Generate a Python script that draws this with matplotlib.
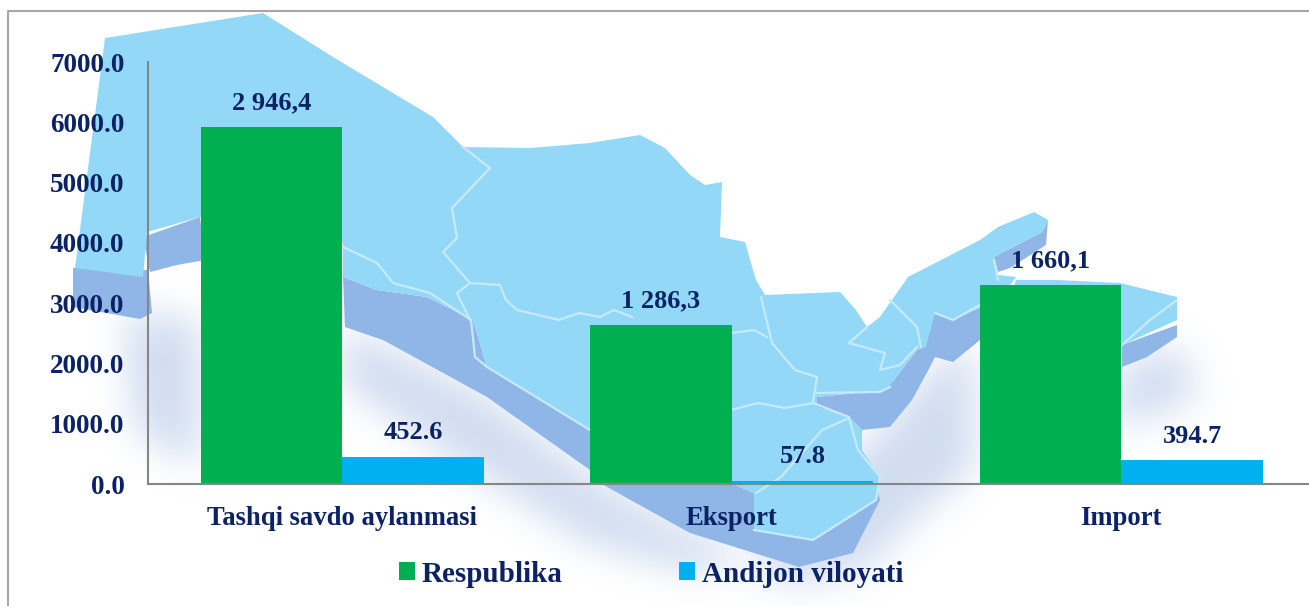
import matplotlib
matplotlib.use("Agg")
import matplotlib.pyplot as plt
import numpy as np
from matplotlib.patches import Polygon
from matplotlib.path import Path

categories = ["Tashqi savdo aylanmasi", "Eksport", "Import"]
respublika = [5922, 2637, 3296]
andijon = [452.6, 57.8, 394.7]
respublika_labels = ["2 946,4", "1 286,3", "1 660,1"]
andijon_labels = ["452.6", "57.8", "394.7"]
y_ticks = [0, 1000, 2000, 3000, 4000, 5000, 6000, 7000]

W, H = 1309, 606
TEXT = "#0B2265"
GREEN = "#00B050"
BLUE = "#00B0F0"
AXIS = "#868686"

# background map, traced in image pixels (decoration only)
MAP_GLOW = [
    [(343, 327), (487, 397), (600, 483), (690, 533), (754, 553), (700, 575), (590, 545), (440, 450), (345, 385)],
    [(125, 315), (200, 320), (200, 470), (135, 430)],
    [(885, 430), (935, 370), (975, 345), (975, 470), (905, 530), (870, 570), (800, 585), (750, 570)],
    [(1122, 370), (1175, 345), (1205, 395), (1122, 430)],
]
MAP_DARK = [
    [(343, 277), (377, 290), (427, 297), (473, 320), (487, 367), (590, 430), (700, 470), (754, 493),
     (754, 553), (690, 533), (600, 483), (590, 470), (487, 397), (383, 340), (345, 327)],
    [(754, 493), (754, 553), (799, 567), (853, 553), (880, 500), (876, 485), (813, 540), (754, 530)],
    [(73, 268), (148, 270), (152, 313), (140, 319), (73, 307)],
    [(143, 237), (200, 217), (205, 260), (177, 265), (150, 272)],
    [(935, 313), (935, 357), (930, 367), (912, 400), (890, 427), (862, 430), (849, 417), (817, 407),
     (817, 397), (885, 390), (894, 380), (917, 350)],
    [(935, 313), (935, 357), (953, 362), (980, 340), (985, 305), (953, 320)],
    [(1122, 345), (1177, 325), (1177, 337), (1147, 357), (1122, 367)],
    [(994, 257), (1042, 232), (1048, 220), (1046, 245), (1010, 268), (998, 272)],
]
MAP_FACE = [
    [(105, 38), (263, 13), (333, 57), (433, 117), (463, 147), (530, 148), (590, 143), (640, 135),
     (665, 148), (690, 175), (705, 185), (722, 182), (720, 237), (745, 242), (756, 280), (765, 295),
     (840, 292), (856, 310), (867, 327), (880, 317), (908, 277), (980, 240), (998, 227), (1034, 212),
     (1048, 220), (1042, 232), (994, 257), (998, 275), (1016, 277), (1000, 300), (980, 307), (953, 320),
     (935, 313), (926, 347), (917, 350), (894, 380), (885, 390), (817, 397), (817, 407), (849, 417),
     (862, 430), (862, 450), (880, 477), (876, 500), (813, 540), (754, 530), (754, 493), (700, 470),
     (590, 430), (487, 367), (473, 320), (427, 297), (377, 290), (343, 277), (343, 243), (200, 217),
     (147, 232), (143, 277), (75, 268)],
    [(1016, 280), (1057, 280), (1120, 283), (1177, 297), (1177, 320), (1122, 345), (1000, 330)],
]
MAP_LINES = [
    [(463, 147), (490, 168), (452, 208), (457, 238), (443, 252), (470, 283), (457, 293), (470, 320)],
    [(343, 247), (377, 263), (393, 283), (430, 293), (471, 320), (475, 357), (487, 367), (590, 430)],
    [(470, 283), (500, 285), (506, 300), (517, 310), (559, 320), (579, 313), (600, 317), (614, 310), (632, 317)],
    [(731, 333), (754, 330), (767, 337)],
    [(761, 297), (772, 343), (795, 370), (817, 377), (813, 403), (849, 417)],
    [(731, 410), (758, 403), (785, 408), (813, 403)],
    [(849, 418), (822, 430), (781, 477), (756, 493)],
    [(849, 418), (858, 450), (880, 477), (876, 500), (813, 540), (754, 530)],
    [(867, 327), (849, 343), (885, 353), (880, 370), (900, 365), (917, 347)],
    [(890, 387), (880, 392), (817, 393)],
    [(890, 300), (917, 327), (921, 347)],
    [(935, 313), (953, 320), (980, 305)],
    [(994, 260), (998, 280)],
    [(1122, 345), (1150, 320), (1177, 300)],
]


def soft_mask(polys, blur=9, passes=3):
    # polygons to a mask, then a few box blurs, on a quarter size grid
    gx, gy = np.meshgrid(np.arange(0, W, 4) + 2, np.arange(0, H, 4) + 2)
    grid = np.column_stack([gx.ravel(), gy.ravel()])
    mask = np.zeros(gx.shape)
    for pts in polys:
        mask[Path(pts).contains_points(grid).reshape(gx.shape)] = 1.0
    kernel = np.ones(blur) / blur
    for _ in range(passes):
        mask = np.apply_along_axis(lambda r: np.convolve(r, kernel, mode="same"), 1, mask)
        mask = np.apply_along_axis(lambda c: np.convolve(c, kernel, mode="same"), 0, mask)
    return mask


plt.rcParams["font.family"] = ["Liberation Serif", "DejaVu Serif"]
plt.rcParams["font.weight"] = "bold"

fig = plt.figure(figsize=(W / 100, H / 100), dpi=100)

bg = fig.add_axes([0, 0, 1, 1], zorder=0)

glow = soft_mask(MAP_GLOW)
rgba = np.zeros(glow.shape + (4,))
rgba[..., :3] = (0.62, 0.72, 0.88)
rgba[..., 3] = glow * 0.48
bg.imshow(rgba, extent=(0, W, H, 0), interpolation="bilinear", aspect="auto")

for pts in MAP_DARK:
    bg.add_patch(Polygon(pts, closed=True, fc="#8FB6E6", ec="none"))
for pts in MAP_FACE:
    bg.add_patch(Polygon(pts, closed=True, fc="#93D9F7", ec="none"))
for pts in MAP_LINES:
    bg.plot([p[0] for p in pts], [p[1] for p in pts], color="#C6EAF9", lw=1.6)

# outer chart frame, runs off the right and bottom of the crop
bg.plot([8, 8, W], [H, 11, 11], color="#A6A6A6", lw=1.5)
bg.set_xlim(0, W)
bg.set_ylim(H, 0)
bg.axis("off")

x0, unit = 147.5, 389.5
y_zero, y_top = 484, 62
ax = fig.add_axes([x0 / W, 1 - y_zero / H, 3 * unit / W, (y_zero - y_top) / H], zorder=1)
ax.patch.set_alpha(0)
ax.set_xlim(-0.5, 2.5)
ax.set_ylim(0, 7000)

width = 141.5 / unit
xs = range(len(categories))
b1 = ax.bar([x - width / 2 for x in xs], respublika, width, color=GREEN, label="Respublika")
b2 = ax.bar([x + width / 2 for x in xs], andijon, width, color=BLUE, label="Andijon viloyati")
ax.bar_label(b1, labels=respublika_labels, padding=9, color=TEXT, fontsize=19, fontweight="bold")
ax.bar_label(b2, labels=andijon_labels, padding=9, color=TEXT, fontsize=19, fontweight="bold")

ax.set_xticks(list(xs))
ax.set_xticklabels(categories)
ax.set_yticks(y_ticks)
ax.set_yticklabels([f"{v:.1f}" for v in y_ticks])
ax.tick_params(axis="x", length=0, pad=15.5, labelsize=19.2, labelcolor=TEXT)
ax.tick_params(axis="y", length=0, pad=16.5, labelsize=19.5, labelcolor=TEXT)

ax.spines["top"].set_visible(False)
ax.spines["right"].set_visible(False)
for side in ["left", "bottom"]:
    ax.spines[side].set_color(AXIS)
    ax.spines[side].set_linewidth(1.5)

ax.legend(
    loc="center",
    bbox_to_anchor=(651 / W, 1 - 574 / H),
    bbox_transform=fig.transFigure,
    ncol=2,
    frameon=False,
    fontsize=21,
    labelcolor=TEXT,
    handlelength=0.54,
    handleheight=0.54,
    handletextpad=0.23,
    columnspacing=4.0,
)

fig.savefig("out.png", dpi=100)
